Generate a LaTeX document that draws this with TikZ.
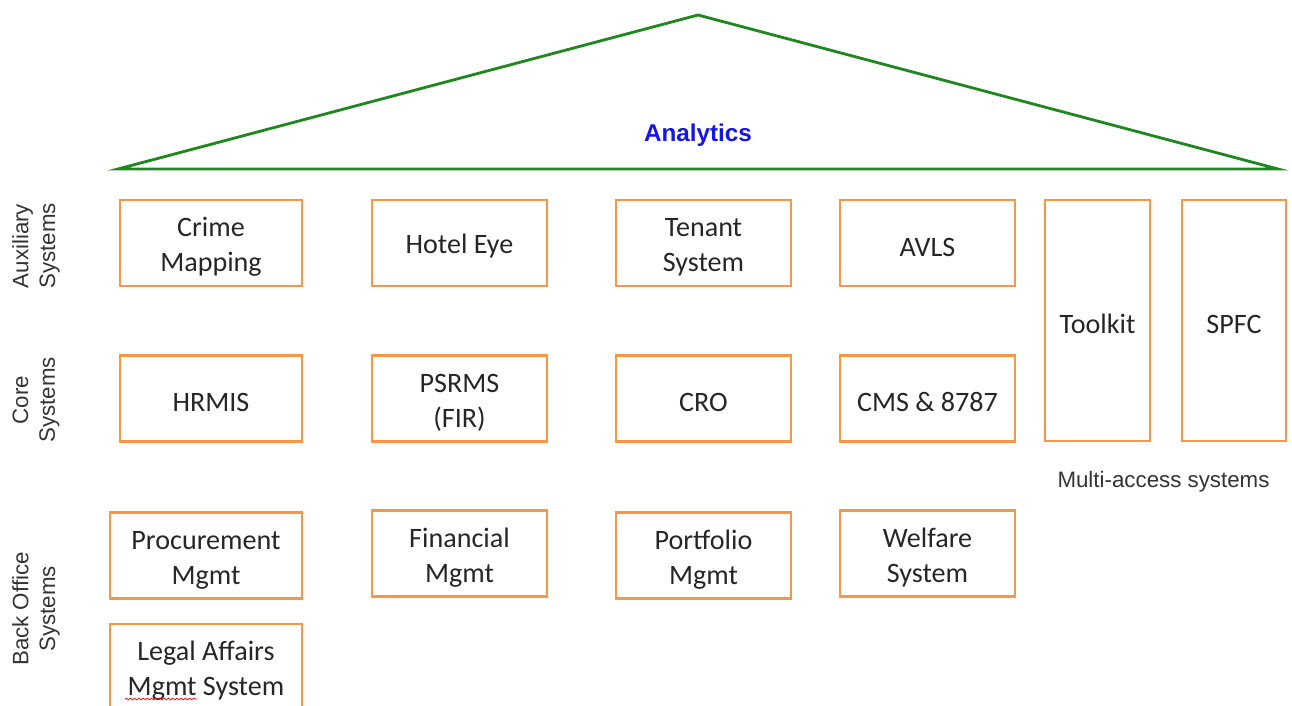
\documentclass[tikz,border=0pt]{standalone}
\usepackage{fontspec}
\setmainfont{Carlito}
\newfontfamily\arialfont{Liberation Sans}
\usetikzlibrary{decorations.pathmorphing}
\definecolor{boxorange}{RGB}{247,150,70}
\definecolor{roofgreen}{RGB}{30,135,30}
\definecolor{analyticsblue}{RGB}{20,20,235}
\newcommand\boxfont{\fontsize{16}{19.8}\selectfont}
\newcommand\sidefont{\arialfont\fontsize{12.7}{15.3}\selectfont}
\tikzset{
sysbox/.style={rectangle, draw=boxorange, line width=1.4pt, align=center, inner sep=0pt, text=black!85, font=\boxfont, minimum width=3.5cm, minimum height=1.72cm,
  execute at begin node=\rule{0pt}{15pt}},
twoline/.style={execute at begin node=\rule{0pt}{35.2pt}},
sidelabel/.style={rotate=90, align=center, text=black!80, font=\sidefont},
roof/.style={draw=roofgreen, line width=1.6pt, line join=miter}
}

\begin{document}
\begin{tikzpicture}[x=0.02cm, y=-0.02cm]
\useasboundingbox (0,0) rectangle (1292,706);
\clip (0,0) rectangle (1292,706);

% roof
\draw[roof] (118,169) -- (698,15) -- (1278,169) -- cycle;
\node [font=\arialfont\bfseries\fontsize{13.8}{16}\selectfont, text=analyticsblue] (ANL) at (698,135) {Analytics};

% row labels
\node [sidelabel] (AUXL) at (36,246) {Auxiliary\\Systems};
\node [sidelabel] (CORL) at (36,400) {Core\\Systems};
\node [sidelabel] (BOFL) at (36,609) {Back Office\\Systems};

% auxiliary systems
\node [sysbox, twoline, minimum width=3.64cm] (CRM) at (211,243) {Crime\\Mapping};
\node [sysbox] (HTL) at (459.5,243) {Hotel Eye};
\node [sysbox, twoline] (TNT) at (703.5,243) {Tenant\\System};
\node [sysbox] (AVLS) at (927.5,243) {AVLS};

% core systems
\node [sysbox, minimum width=3.64cm] (HRM) at (211,398.5) {HRMIS};
\node [sysbox, twoline] (PSR) at (459.5,398.5) {PSRMS\\(FIR)};
\node [sysbox] (CRO) at (703.5,398.5) {CRO};
\node [sysbox] (CMS) at (927.5,398.5) {CMS \& 8787};

% multi-access systems
\node [sysbox, minimum width=2.1cm, minimum height=4.82cm] (TLK) at (1097.5,320.5) {Toolkit};
\node [sysbox, minimum width=2.08cm, minimum height=4.82cm] (SPFC) at (1234,320.5) {SPFC};
\node [font=\sidefont, text=black!80] (MAS) at (1163.5,482) {Multi-access systems};

% back office systems
\node [sysbox, twoline, minimum width=3.84cm] (PRC) at (206,555.5) {Procurement\\Mgmt};
\node [sysbox, twoline] (FIN) at (459.5,553.5) {Financial\\Mgmt};
\node [sysbox, twoline] (PRT) at (703.5,555.5) {Portfolio\\Mgmt};
\node [sysbox, twoline] (WLF) at (927.5,553.5) {Welfare\\System};
\node [sysbox, twoline, minimum width=3.84cm] (LGL) at (206,667) {Legal Affairs\\Mgmt System};

% spell-check squiggle
\draw[red, line width=0.4pt, decorate, decoration={snake, amplitude=0.5pt, segment length=2.4pt}] (125,699) -- (197,699);
\end{tikzpicture}
\end{document}
